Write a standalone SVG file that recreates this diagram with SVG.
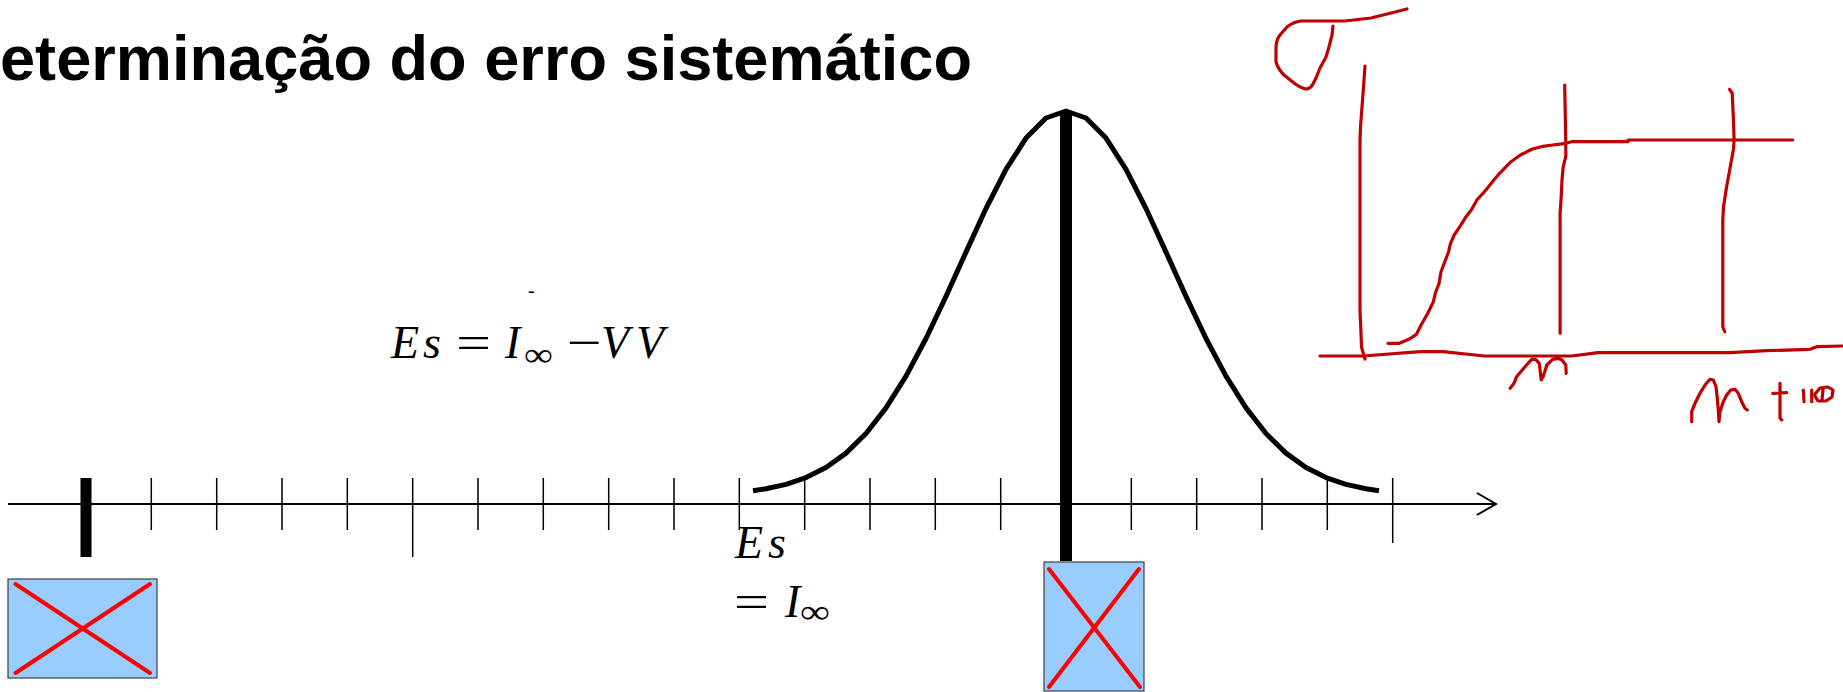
<svg xmlns="http://www.w3.org/2000/svg" width="1843" height="692" viewBox="0 0 1843 692">
<style>
.title{font-family:"Liberation Sans",Arial,sans-serif;font-weight:bold;font-size:63px;fill:#000}
.m{font-family:"Liberation Serif","Times New Roman",serif;font-size:46px;fill:#000}
.i{font-style:italic}
.tick{stroke:#000;stroke-width:1.5;fill:none}
.axis{stroke:#000;stroke-width:2;fill:none}
.curve{stroke:#000;stroke-width:5;fill:none;stroke-linejoin:round}
.box{fill:#99ccff;stroke:#404040;stroke-width:1.2}
.x{stroke:#ff0000;stroke-width:4;stroke-linecap:round}
.ink{stroke:#c00000;stroke-width:3.2;fill:none;stroke-linecap:round;stroke-linejoin:round}
</style>
<rect width="1843" height="692" fill="#fff"/>
<text class="title" x="0" y="80" textLength="972" lengthAdjust="spacingAndGlyphs">eterminação do erro sistemático</text>

<g id="axis">
<line class="axis" x1="8" y1="504" x2="1496" y2="504"/>
<polyline class="axis" points="1477,493 1496,504 1477,515"/>
<path class="tick" d="M151.3,478V530M216.7,478V530M282,478V530M347.3,478V530M412.7,478V557M478,478V530M543.3,478V530M608.7,478V530M674,478V530M739.3,478V530M804.7,478V530M870,478V530M935.3,478V530M1000.7,478V530M1131.3,478V530M1196.7,478V530M1262,478V530M1327.3,478V530M1392.7,478V543"/>
</g>

<g id="curve">
<polyline class="curve" points="753,490.7 766,488.8 786,484.4 806,477.6 826,467.5 846,453.1 866,433.5 886,407.9 906,376.1 926,338.5 946,296.4 966,252.1 986,208.5 1006,169.4 1026,138.1 1046,118 1066,111 1086,118 1106,138.1 1126,169.4 1146,208.5 1166,252.1 1186,296.4 1206,338.5 1226,376.1 1246,407.9 1266,433.5 1286,453.1 1306,467.5 1326,477.6 1346,484.4 1366,488.8 1379,490.7"/>
</g>

<g id="marker-left">
<rect x="80.5" y="478" width="11" height="79" fill="#000"/>
<rect class="box" x="8" y="579" width="149" height="99"/>
<line class="x" x1="15.5" y1="584" x2="150" y2="673"/>
<line class="x" x1="150" y1="584" x2="15.5" y2="673"/>
</g>

<g id="marker-right">
<rect x="1060" y="111" width="12" height="450" fill="#000"/>
<rect class="box" x="1044" y="562" width="100" height="129"/>
<line class="x" x1="1049" y1="569" x2="1140" y2="687"/>
<line class="x" x1="1139" y1="569" x2="1049" y2="687"/>
</g>

<g id="eq1">
<text class="m" y="358"><tspan class="i" x="391">E</tspan><tspan class="i" x="423">s</tspan><tspan class="i" x="505">I</tspan><tspan class="i" x="601">V</tspan><tspan class="i" x="636">V</tspan></text>
<text class="m" x="456" y="358" textLength="35" lengthAdjust="spacingAndGlyphs">=</text>
<text class="m" x="567" y="358" textLength="35" lengthAdjust="spacingAndGlyphs">−</text>
<text class="m" x="524" y="366" style="font-size:34px" textLength="29" lengthAdjust="spacingAndGlyphs">∞</text>
<text class="m" x="528" y="297" style="font-size:20px">-</text>
</g>

<g id="eq2">
<text class="m" y="558"><tspan class="i" x="735">E</tspan><tspan class="i" x="768">s</tspan></text>
<text class="m" x="734" y="617" textLength="35" lengthAdjust="spacingAndGlyphs">=</text>
<text class="m" y="617"><tspan class="i" x="785">I</tspan></text>
<text class="m" x="800" y="623" style="font-size:34px" textLength="30" lengthAdjust="spacingAndGlyphs">∞</text>
</g>

<g id="sketch">
<path class="ink" d="M1407,9 L1371,18 L1345,21 L1301,21 Q1293,22 1287,27 L1280,35 Q1276,40 1276,48 L1276,62 Q1278,69 1284,75 L1294,83 Q1302,89 1307,89 Q1311,88 1313,84 L1316,78 L1320,68 L1326,57 L1329,47 L1332,35 L1333,26"/>
<path class="ink" d="M1365,66 L1363.5,87 L1360.5,127 L1360,140 L1360,310 L1361,333 L1361.5,347 L1365,359"/>
<path class="ink" d="M1320,356 L1363.5,356 L1420,351.7 L1443,351.7 L1484.5,356 L1571.5,356 L1598,352.7 L1730,352.7 L1766.7,350.7 L1810,349.3 L1816.7,346.7 L1843,346"/>
<path class="ink" d="M1388,343.3 L1399.4,343.3 L1408.9,339.3 L1416.4,334.3 L1422.1,323.3 L1427.8,313.3 L1433.4,301.7 L1435.3,293.3 L1439.1,283.3 L1441,271.7 L1444.8,261.7 L1448.6,251.7 L1450.5,243.3 L1454.2,235 L1459.9,226.7 L1465.6,217.3 L1471.3,210 L1476.9,200 L1484.5,191.7 L1493.9,180 L1499.6,173.3 L1511,161.7 L1520.4,155 L1531.8,149.3 L1541.2,146.7 L1552.6,145 L1565.8,143.3 L1571.5,141.7 L1628,141.7 L1628,140 L1792.7,140"/>
<path class="ink" d="M1564.7,85 L1565.8,143.3 L1565.8,156.7 L1563.2,166.7 L1562,180 L1561,200 L1560.1,213.3 L1560.1,333.3"/>
<path class="ink" d="M1729.6,89.3 L1732.2,93.3 L1733.3,116.7 L1734.1,140 L1733.3,150 L1730.3,166.7 L1726.6,186.7 L1723.5,206.7 L1722.8,220 L1722.8,326.7 L1724.7,331.7"/>
<path class="ink" d="M1510.2,388.3 L1514,383.3 L1516.6,376.7 L1522.3,370 L1528,363.3 L1531.8,359.3 L1535.6,359.3 L1539.3,363.3 L1541.2,380 L1543.1,376.7 L1546.9,365 L1552.6,359.3 L1558.2,358.3 L1562,360 L1565.8,365 L1566.2,373.3"/>
<path class="ink" d="M1691.7,421.7 L1691.7,411.7 L1695,403.3 L1700,393.3 L1705,385 L1710,379.3 L1713.3,380 L1716,386.7 L1717.3,398.3 L1718.3,410 L1719,421.7 L1720,411.7 L1723.3,401.7 L1726.7,395 L1730.7,390 L1735,389.3 L1738.3,393.3 L1741.7,401.7 L1745,408.3 L1747.3,410"/>
<path class="ink" d="M1780,383.3 L1780,418 L1781.7,420 M1772.7,393.3 L1786.7,392.7"/>
<path class="ink" d="M1803.3,390 L1804,401.7 M1811.7,390 L1811.7,401.7 M1815,394 L1820,388 L1828,387 L1833,390 L1832,397 L1826,401 L1818,401 L1815,396 M1823,389 L1822,400"/>
</g>
</svg>
